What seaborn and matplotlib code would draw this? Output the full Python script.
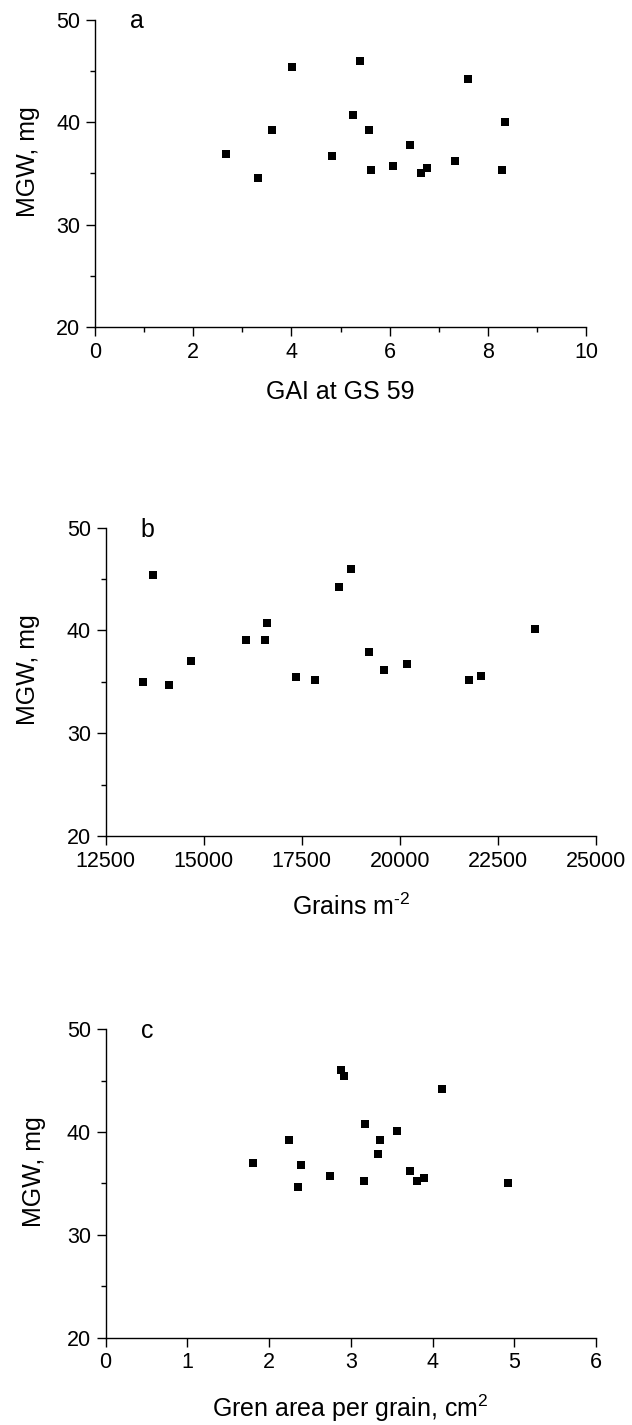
import matplotlib
matplotlib.use("Agg")
import matplotlib.pyplot as plt
from matplotlib.ticker import MultipleLocator
import seaborn as sns
import pandas as pd

# ---- data ----
gai = [2.66, 3.32, 3.61, 4.01, 4.82, 5.26, 5.40, 5.58, 5.62, 6.07, 6.41, 6.63, 6.77, 7.33, 7.60, 8.28, 8.35]
mgw_a = [36.9, 34.6, 39.2, 45.4, 36.7, 40.7, 46.0, 39.2, 35.3, 35.7, 37.8, 35.0, 35.5, 36.2, 44.2, 35.3, 40.0]

grains = [13450, 13710, 14120, 14680, 16080, 16560, 16620, 17350, 17840, 18440, 18750, 19220, 19600, 20180, 21770, 22070, 23440]
mgw_b = [35.0, 45.4, 34.7, 37.0, 39.1, 39.1, 40.7, 35.5, 35.2, 44.2, 46.0, 37.9, 36.2, 36.7, 35.2, 35.6, 40.1]

green_area = [1.80, 2.24, 2.35, 2.39, 2.75, 2.88, 2.92, 3.16, 3.17, 3.33, 3.36, 3.57, 3.73, 3.81, 3.90, 4.12, 4.92]
mgw_c = [36.95, 39.2, 34.65, 36.75, 35.7, 46.0, 45.45, 35.25, 40.75, 37.85, 39.2, 40.1, 36.2, 35.25, 35.5, 44.2, 35.0]

panel_letters = ["a", "b", "c"]
x_labels = ["GAI at GS 59", r"Grains m$^{\text{-2}}$", r"Gren area per grain, cm$^{2}$"]
y_label = "MGW, mg"

sns.set_style("ticks")
plt.rcParams["font.family"] = ["Liberation Sans", "DejaVu Sans"]
plt.rcParams["mathtext.fontset"] = "custom"
plt.rcParams["mathtext.rm"] = "Liberation Sans"
plt.rcParams["mathtext.it"] = "Liberation Sans"
plt.rcParams["mathtext.bf"] = "Liberation Sans:bold"
plt.rcParams["text.color"] = "black"
plt.rcParams["axes.labelcolor"] = "black"
plt.rcParams["xtick.color"] = "black"
plt.rcParams["ytick.color"] = "black"

W, H = 632, 1425
fig = plt.figure(figsize=(W / 100, H / 100), dpi=100)

# axes boxes in pixels: left, top, right, bottom
boxes = [(95, 19.5, 586, 327.3), (105.5, 527.7, 596, 836), (105.5, 1029.3, 596, 1337.5)]
ylab_base = [60.3, 70.8, 64.3]   # px left of spine (baseline of rotated label)
xlab_base = [72, 79, 79]         # px below spine (baseline)

datasets = [
    (gai, mgw_a, (0, 10), 2, 1),
    (grains, mgw_b, (12500, 25000), 2500, None),
    (green_area, mgw_c, (0, 6), 1, None),
]

for i, ((xv, yv, xlim, xmaj, xmin), (l, t, r, b)) in enumerate(zip(datasets, boxes)):
    ax = fig.add_axes([l / W, 1 - b / H, (r - l) / W, (b - t) / H])
    df = pd.DataFrame({"x": xv, "y": yv})
    sns.scatterplot(data=df, x="x", y="y", ax=ax, marker="s", color="black",
                    s=30, linewidth=0, clip_on=False)
    ax.set_xlim(*xlim)
    ax.set_ylim(20, 50)
    ax.xaxis.set_major_locator(MultipleLocator(xmaj))
    if xmin:
        ax.xaxis.set_minor_locator(MultipleLocator(xmin))
    ax.yaxis.set_major_locator(MultipleLocator(10))
    ax.yaxis.set_minor_locator(MultipleLocator(5))
    sns.despine(ax=ax)
    for s in ["left", "bottom"]:
        ax.spines[s].set_linewidth(1.0)
        ax.spines[s].set_color("black")
    ax.tick_params(which="major", direction="out", length=6.5, width=1.0,
                   labelsize=15.5, pad=4, color="black", labelcolor="black")
    ax.tick_params(which="minor", direction="out", length=3.6, width=1.0, color="black")
    ax.set_xlabel(x_labels[i], fontsize=18, color="black")
    ax.set_ylabel(y_label, fontsize=18, color="black")
    hpx = b - t
    wpx = r - l
    ax.xaxis.label.set_va("baseline")
    ax.xaxis.set_label_coords(0.5, -xlab_base[i] / hpx)
    ax.yaxis.label.set_va("baseline")
    ax.yaxis.set_label_coords(-ylab_base[i] / wpx, 0.5 + 12 / hpx)
    ax.text(35 / wpx, 1 - 9 / hpx, panel_letters[i], transform=ax.transAxes,
            ha="left", va="baseline", fontsize=18, color="black")

fig.savefig("out.png", dpi=100)
